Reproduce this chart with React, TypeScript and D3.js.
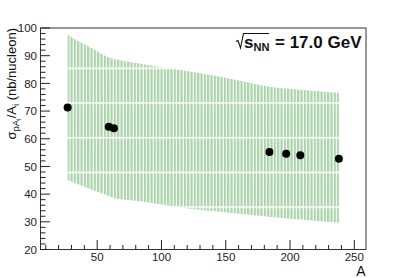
import React from "react";
import * as d3 from "d3";

const massNumbers = [27, 59, 63, 184, 197, 208, 238];
const sigmaValues = [71.3, 64.3, 63.8, 55.2, 54.6, 54.0, 52.8];

const upperA = [27, 35, 47, 60, 70, 83, 100, 122, 146, 184, 210, 238];
const upperValues = [97.5, 95.3, 92.4, 89.2, 88.2, 87.2, 85.8, 84.3, 82.4, 78.8, 77.6, 76.5];
const lowerA = [27, 47, 65, 83, 122, 161, 200, 238];
const lowerValues = [45.0, 41.4, 38.3, 37.4, 34.7, 32.9, 31.1, 29.7];

const xTicks = [50, 100, 150, 200, 250];
const yTicks = [20, 30, 40, 50, 60, 70, 80, 90, 100];

const W = 407, H = 278;
const L = 40.5, R = 366, T = 28, B = 249.5;

function interp(xs: number[], ys: number[], a: number) {
  const i = d3.bisectLeft(xs, a);
  if (i <= 0) return ys[0];
  if (i >= xs.length) return ys[ys.length - 1];
  const t = (a - xs[i - 1]) / (xs[i] - xs[i - 1]);
  return ys[i - 1] + t * (ys[i] - ys[i - 1]);
}

export default function App() {
  const x = d3.scaleLinear().domain([5.9, 259.1]).range([L, R]);
  const y = d3.scaleLinear().domain([20, 100]).range([B, T]);

  const grid = Array.from(new Set([...upperA, ...lowerA])).sort((a, b) => a - b);
  const area = d3
    .area<number>()
    .x((a) => x(a))
    .y0((a) => y(interp(lowerA, lowerValues, a)))
    .y1((a) => y(interp(upperA, upperValues, a)))
    .curve(d3.curveMonotoneX);

  const minorX = d3.range(10, 260, 10).filter((v) => x(v) > L && x(v) < R);
  const minorY = d3.range(20, 100.1, 2);

  const font = "'Liberation Sans', Arial, Helvetica, sans-serif";

  return (
    <svg width={W} height={H} style={{ position: "absolute", left: 0, top: 0 }}>
      <defs>
        <pattern id="dots" patternUnits="userSpaceOnUse" x={0} y={0} width={2} height={2}>
          <rect x={0} y={0} width={2} height={2} fill="#c2e0c2" />
          <rect x={0} y={0} width={1} height={1} fill="#94c694" />
          <rect x={1} y={1} width={1} height={1} fill="#94c694" />
        </pattern>
        <pattern id="hatch" patternUnits="userSpaceOnUse" x={0.5} y={32.8} width={3.333} height={34.7}>
          <rect x={0} y={1.6} width={2.2} height={33.1} fill="url(#dots)" />
        </pattern>
      </defs>
      <rect x={0} y={0} width={W} height={H} fill="white" />
      <path d={area(grid) || ""} fill="url(#hatch)" />

      {/* frame */}
      <rect x={L} y={T} width={R - L} height={B - T} fill="none" stroke="#333" strokeWidth={1} />

      {/* y ticks */}
      {minorY.map((v) => {
        const major = Math.abs(v % 10) < 1e-6;
        return (
          <line key={"ym" + v} x1={L} x2={L + (major ? 9.5 : 5)} y1={y(v)} y2={y(v)} stroke="#222" strokeWidth={1} />
        );
      })}
      {yTicks.map((v) => (
        <text key={"yt" + v} x={37} y={y(v)} dy="0.36em" textAnchor="end" fontFamily={font} fontSize={11.5} fill="#222">
          {v}
        </text>
      ))}

      {/* x ticks */}
      {minorX.map((v) => {
        const major = v % 50 === 0;
        return (
          <line key={"xm" + v} x1={x(v)} x2={x(v)} y1={B} y2={B - (major ? 9.5 : 4.5)} stroke="#222" strokeWidth={1} />
        );
      })}
      {xTicks.map((v) => (
        <text key={"xt" + v} x={x(v)} y={261} textAnchor="middle" fontFamily={font} fontSize={11.5} fill="#222">
          {v}
        </text>
      ))}

      <text x={361} y={276} textAnchor="middle" fontFamily={font} fontSize={14} fill="#111">
        A
      </text>

      {/* y title */}
      <text
        transform={`translate(16,${T}) rotate(-90)`}
        textAnchor="end"
        fontFamily={font}
        fontSize={13}
        fill="#111"
      >
        <tspan>σ</tspan>
        <tspan fontSize={9.5} dy={3}>pA</tspan>
        <tspan fontSize={7} dy={2}>i</tspan>
        <tspan dy={-5}>/A</tspan>
        <tspan fontSize={9.5} dy={3}>i</tspan>
        <tspan dy={-3}> (nb/nucleon)</tspan>
      </text>

      {/* energy label */}
      <g fontFamily={font} fontWeight="bold" fill="#111">
        <path d="M236,41.5 L238,40.5 L240.5,48 L243.5,33.5 L269,33.5" fill="none" stroke="#111" strokeWidth={1.1} />
        <text x={244} y={47.5} fontSize={17}>s</text>
        <text x={253.5} y={50.5} fontSize={11}>NN</text>
        <text x={361.5} y={47.5} fontSize={17} textAnchor="end">= 17.0 GeV</text>
      </g>

      {/* points */}
      {massNumbers.map((a, i) => (
        <circle key={"p" + i} cx={x(a)} cy={y(sigmaValues[i])} r={4} fill="black" />
      ))}
    </svg>
  );
}
